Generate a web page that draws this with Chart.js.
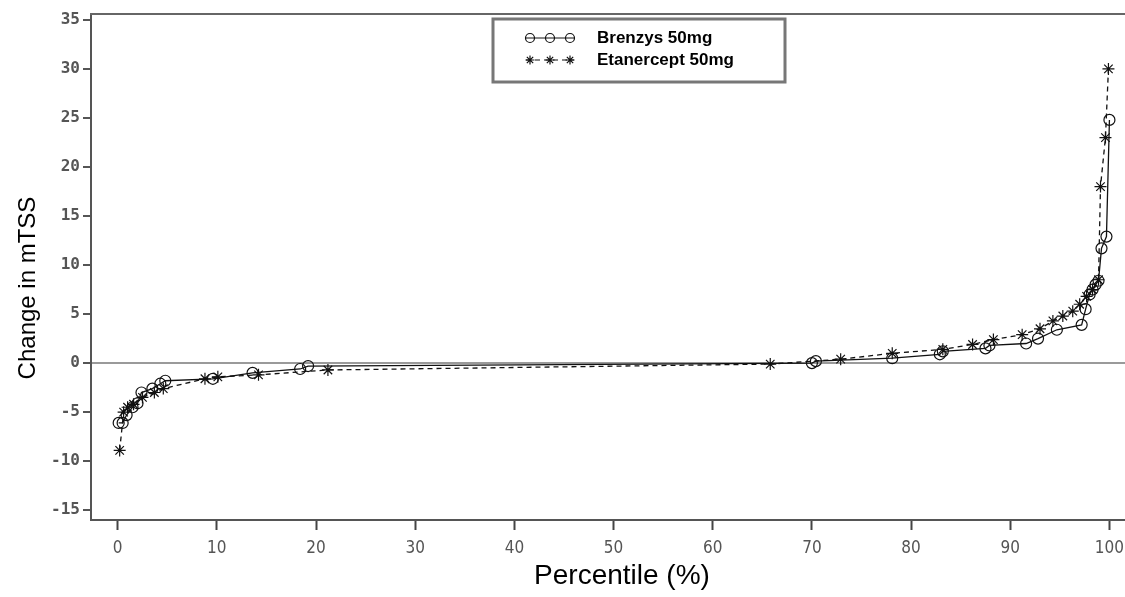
<!DOCTYPE html>
<html>
<head>
<meta charset="utf-8">
<script src="https://cdn.jsdelivr.net/npm/chart.js@4"></script>
<style>
  html, body { margin: 0; padding: 0; background: #fff; overflow: hidden; }
  canvas { display: block; }
</style>
</head>
<body>
<canvas id="chartPercentile" width="1125" height="597"></canvas>
<script>
// ---- data ----
const X_TICKS = [0, 10, 20, 30, 40, 50, 60, 70, 80, 90, 100];
const Y_TICKS = [-15, -10, -5, 0, 5, 10, 15, 20, 25, 30, 35];

const BRENZYS_PCT = [0.1, 0.5, 0.9, 1.5, 2.0, 2.4, 3.5, 4.3, 4.8, 9.6, 13.6, 18.4, 19.2,
  70.0, 70.4, 78.1, 82.9, 83.2, 87.5, 87.9, 91.6, 92.8, 94.7, 97.2, 97.6, 98.0, 98.3,
  98.6, 98.9, 99.2, 99.7, 100.0];
const BRENZYS_CHG = [-6.1, -6.1, -5.3, -4.5, -4.1, -3.0, -2.6, -2.1, -1.8, -1.6, -1.0, -0.6, -0.3,
  0.0, 0.2, 0.5, 0.9, 1.2, 1.5, 1.8, 2.0, 2.5, 3.4, 3.9, 5.5, 7.0, 7.5,
  8.0, 8.4, 11.7, 12.9, 24.8];

const ETAN_PCT = [0.2, 0.6, 1.0, 1.6, 2.5, 3.7, 4.6, 8.8, 10.1, 14.2, 21.2,
  65.8, 72.9, 78.1, 83.2, 86.2, 88.3, 91.2, 93.0, 94.3, 95.3, 96.3, 97.0, 97.7,
  98.3, 98.9, 99.1, 99.6, 99.9];
const ETAN_CHG = [-8.9, -5.0, -4.5, -4.2, -3.5, -3.0, -2.6, -1.6, -1.4, -1.2, -0.7,
  -0.1, 0.4, 1.0, 1.4, 1.9, 2.4, 2.9, 3.5, 4.3, 4.8, 5.3, 6.0, 6.8,
  7.5, 8.5, 18.0, 23.0, 30.0];

const SERIES_LABELS = ['Brenzys 50mg', 'Etanercept 50mg'];

const toPoints = (xs, ys) => xs.map((x, i) => ({ x: x, y: ys[i] }));

// frame line on top of the plot area + axis titles
const framePlugin = {
  id: 'frame',
  afterDraw(chart) {
    const { ctx, chartArea } = chart;
    ctx.save();
    ctx.strokeStyle = '#666';
    ctx.lineWidth = 2;
    ctx.beginPath();
    ctx.moveTo(chartArea.left - 1, chartArea.top);
    ctx.lineTo(chart.width, chartArea.top);
    ctx.stroke();

    ctx.fillStyle = '#000';
    ctx.textAlign = 'center';
    ctx.textBaseline = 'middle';
    ctx.font = "28px 'Liberation Sans', Arial, sans-serif";
    ctx.fillText('Percentile (%)', 622, 576);
    ctx.font = "24px 'Liberation Sans', Arial, sans-serif";
    ctx.translate(28, 288);
    ctx.rotate(-Math.PI / 2);
    ctx.fillText('Change in mTSS', 0, 0);
    ctx.restore();
  }
};

// boxed legend drawn inside the plot, like the original
const legendPlugin = {
  id: 'boxLegend',
  afterDraw(chart) {
    const { ctx } = chart;
    ctx.save();
    ctx.strokeStyle = '#777';
    ctx.lineWidth = 3;
    ctx.strokeRect(493, 19, 292, 63);

    const rows = [38, 60];
    chart.data.datasets.forEach((ds, i) => {
      const y = rows[i];
      ctx.strokeStyle = '#111';
      ctx.lineWidth = 1.2;
      ctx.setLineDash(ds.borderDash || []);
      ctx.beginPath();
      ctx.moveTo(526, y);
      ctx.lineTo(574, y);
      ctx.stroke();
      ctx.setLineDash([]);
      ctx.fillStyle = 'rgba(0,0,0,0)';
      [530, 550, 570].forEach(px => {
        Chart.helpers.drawPoint(ctx, {
          pointStyle: ds.pointStyle,
          radius: 4.5,
          borderWidth: 1.2
        }, px, y);
      });
      ctx.fillStyle = '#000';
      ctx.font = "bold 17px 'Liberation Sans', Arial, sans-serif";
      ctx.textAlign = 'left';
      ctx.textBaseline = 'middle';
      ctx.fillText(ds.label, 597, y);
    });
    ctx.restore();
  }
};

function createPercentileChart() {
  const ctx = document.getElementById('chartPercentile');
  if (!ctx) return;

  new Chart(ctx, {
    type: 'scatter',
    data: {
      datasets: [
        {
          label: SERIES_LABELS[0],
          data: toPoints(BRENZYS_PCT, BRENZYS_CHG),
          showLine: true,
          borderColor: '#111',
          borderWidth: 1.3,
          pointStyle: 'circle',
          pointRadius: 5.5,
          pointBorderColor: '#111',
          pointBackgroundColor: 'rgba(0,0,0,0)',
          pointBorderWidth: 1.2
        },
        {
          label: SERIES_LABELS[1],
          data: toPoints(ETAN_PCT, ETAN_CHG),
          showLine: true,
          borderColor: '#111',
          borderWidth: 1.3,
          borderDash: [5, 4],
          pointStyle: 'star',
          pointRadius: 6,
          pointBorderColor: '#111',
          pointBackgroundColor: 'rgba(0,0,0,0)',
          pointBorderWidth: 1.2
        }
      ]
    },
    options: {
      responsive: false,
      animation: false,
      layout: { autoPadding: false, padding: { left: 0, top: 14, right: 0, bottom: 0 } },
      plugins: {
        legend: { display: false },
        tooltip: { enabled: false }
      },
      scales: {
        x: {
          type: 'linear',
          min: -2.69,
          max: 101.57,
          afterBuildTicks: (s) => { s.ticks = X_TICKS.map(v => ({ value: v })); },
          afterFit: (s) => { s.height = 77; s.paddingLeft = 0; s.paddingRight = 0; },
          border: { display: true, color: '#555', width: 2 },
          grid: {
            drawOnChartArea: false,
            drawTicks: true,
            tickLength: 10,
            tickColor: '#444',
            tickWidth: 2
          },
          ticks: {
            padding: 8,
            maxRotation: 0,
            autoSkip: false,
            color: '#555',
            font: { family: "'Liberation Sans Narrow', 'DejaVu Sans Condensed', sans-serif", size: 17 }
          }
        },
        y: {
          min: -16,
          max: 35.6,
          afterBuildTicks: (s) => { s.ticks = Y_TICKS.map(v => ({ value: v })); },
          afterFit: (s) => { s.width = 91; s.paddingTop = 0; s.paddingBottom = 0; },
          border: { display: true, color: '#555', width: 2 },
          grid: {
            drawOnChartArea: true,
            color: (c) => (c.tick && c.tick.value === 0) ? '#9a9a9a' : 'rgba(0,0,0,0)',
            lineWidth: 2,
            drawTicks: true,
            tickLength: 8,
            tickColor: '#555',
            tickWidth: 2
          },
          ticks: {
            padding: 3,
            color: '#555',
            font: { family: "'DejaVu Sans Mono', monospace", size: 16, weight: 'bold' }
          }
        }
      }
    },
    plugins: [framePlugin, legendPlugin]
  });
}

createPercentileChart();
</script>
</body>
</html>
